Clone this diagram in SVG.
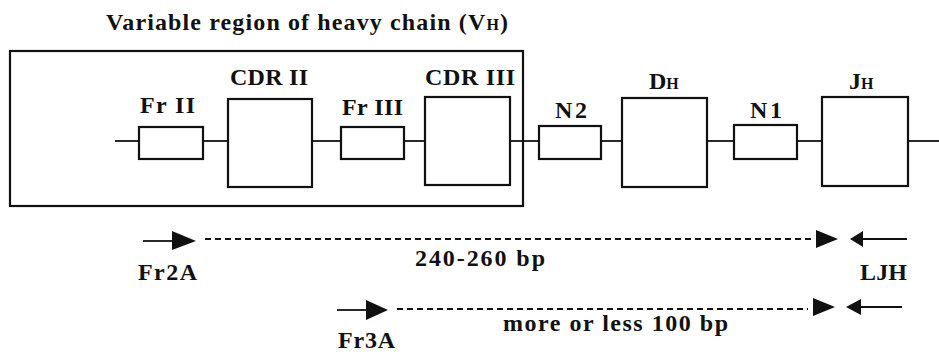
<svg xmlns="http://www.w3.org/2000/svg" width="939" height="352" viewBox="0 0 939 352">
<style>
.bx{fill:none;stroke:#111;stroke-width:2.2}
.ln{stroke:#111;stroke-width:1.8;fill:none}
.ds{stroke:#111;stroke-width:2;stroke-dasharray:6,4;fill:none}
.ah{fill:#111}
text{font-family:"Liberation Serif","Times New Roman",serif;font-weight:bold;fill:#111;font-size:24px}
.sm{font-size:16px}
</style>
<rect width="939" height="352" fill="#fff"/>
<g id="vh-region">
<rect class="bx" x="10" y="51" width="513" height="155"/>
<text x="106" y="30" textLength="402" lengthAdjust="spacing">Variable region of heavy chain (V<tspan class="sm">H</tspan>)</text>
</g>
<g id="connectors">
<line class="ln" x1="115" y1="141" x2="139" y2="141"/>
<line class="ln" x1="203" y1="141" x2="228" y2="141"/>
<line class="ln" x1="312" y1="141" x2="341" y2="141"/>
<line class="ln" x1="404" y1="141" x2="425" y2="141"/>
<line class="ln" x1="510" y1="141" x2="539" y2="141"/>
<line class="ln" x1="601" y1="141" x2="622" y2="141"/>
<line class="ln" x1="707" y1="141" x2="734" y2="141"/>
<line class="ln" x1="797" y1="141" x2="822" y2="141"/>
<line class="ln" x1="908" y1="141" x2="939" y2="141"/>
</g>
<g id="fr2"><rect class="bx" x="139" y="127" width="64" height="32"/><text x="140" y="113" textLength="55" lengthAdjust="spacing">Fr II</text></g>
<g id="cdr2"><rect class="bx" x="228" y="99" width="84" height="88"/><text x="230" y="85" textLength="78" lengthAdjust="spacing">CDR II</text></g>
<g id="fr3"><rect class="bx" x="341" y="127" width="63" height="32"/><text x="342" y="115" textLength="61" lengthAdjust="spacing">Fr III</text></g>
<g id="cdr3"><rect class="bx" x="425" y="97" width="85" height="88"/><text x="425" y="85" textLength="90" lengthAdjust="spacing">CDR III</text></g>
<g id="n2"><rect class="bx" x="539" y="126" width="62" height="33"/><text x="555" y="118" textLength="32" lengthAdjust="spacing">N2</text></g>
<g id="dh"><rect class="bx" x="622" y="98" width="85" height="89"/><text x="649" y="89">D<tspan class="sm">H</tspan></text></g>
<g id="n1"><rect class="bx" x="734" y="125" width="63" height="34"/><text x="750" y="118" textLength="32" lengthAdjust="spacing">N1</text></g>
<g id="jh"><rect class="bx" x="822" y="97" width="86" height="89"/><text x="849" y="89">J<tspan class="sm">H</tspan></text></g>
<g id="primers">
<line class="ln" x1="143" y1="241" x2="174" y2="241"/>
<polygon class="ah" points="172,231 196,241 172,250"/>
<line class="ds" x1="205" y1="239" x2="812" y2="239"/>
<polygon class="ah" points="816,230 838,239 816,248"/>
<polygon class="ah" points="850,239 863,231 863,247"/>
<line class="ln" x1="861" y1="239" x2="907" y2="239"/>
<line class="ln" x1="337" y1="310" x2="368" y2="310"/>
<polygon class="ah" points="366,300 388,310 366,320"/>
<line class="ds" x1="397" y1="309" x2="808" y2="309"/>
<polygon class="ah" points="813,298 835,307 813,316"/>
<polygon class="ah" points="846,307 861,299 861,315"/>
<line class="ln" x1="859" y1="307" x2="902" y2="307"/>
<text x="138" y="280" textLength="59" lengthAdjust="spacing">Fr2A</text>
<text x="415" y="266" textLength="130" lengthAdjust="spacing">240-260 bp</text>
<text x="860" y="280" textLength="47" lengthAdjust="spacing">LJH</text>
<text x="338" y="348" textLength="57" lengthAdjust="spacing">Fr3A</text>
<text x="503" y="331" textLength="225" lengthAdjust="spacing">more or less 100 bp</text>
</g>
</svg>
